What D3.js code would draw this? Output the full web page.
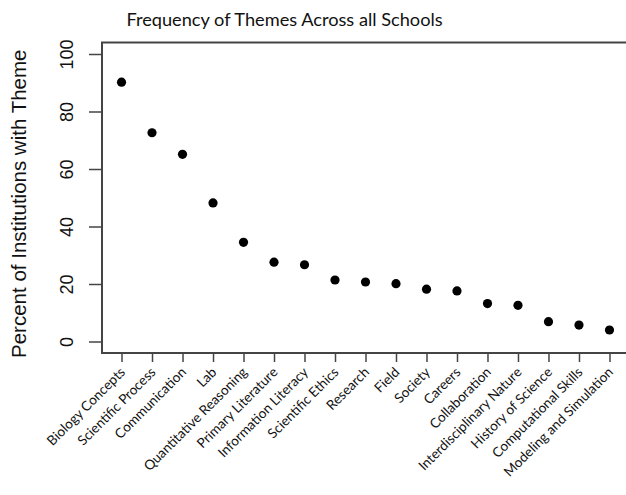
<!DOCTYPE html>
<html><head><meta charset="utf-8">
<script src="https://cdn.jsdelivr.net/npm/d3@7"></script>
<style>body{margin:0;background:#fff}svg{display:block}</style>
</head><body>
<svg id="c" width="626" height="495"></svg>
<script>
const categories = ["Biology Concepts","Scientific Process","Communication","Lab","Quantitative Reasoning","Primary Literature","Information Literacy","Scientific Ethics","Research","Field","Society","Careers","Collaboration","Interdisciplinary Nature","History of Science","Computational Skills","Modeling and Simulation"];
const values = [90.2,72.6,65.1,48.2,34.5,27.6,26.7,21.4,20.7,20.1,18.2,17.6,13.2,12.6,6.9,5.7,4.0];
const yTicks = [0,20,40,60,80,100];
const title = "Frequency of Themes Across all Schools";
const yLabel = "Percent of Institutions with Theme";

const svg = d3.select("#c");
const mLeft = 102, mRight = 629, mTop = 42.5, mBottom = 353;
const x = d3.scaleLinear().domain([0.36, 17.64]).range([mLeft, mRight]);
const y = d3.scaleLinear().domain([-4, 104]).range([mBottom, mTop]);

const axisColor = "#444";

// y axis
const yAxis = d3.axisLeft(y).tickValues(yTicks).tickSize(13).tickFormat(d3.format("d"));
const gy = svg.append("g").attr("transform", `translate(${mLeft},0)`).call(yAxis);
gy.select(".domain").remove();
gy.selectAll(".tick line").attr("stroke", axisColor).attr("stroke-width", 1.5);
gy.selectAll(".tick text")
  .attr("font-family", "Liberation Sans, Arial, sans-serif").attr("font-size", 18).attr("fill", "#111")
  .attr("transform", "rotate(-90)").attr("x", 0).attr("y", -29).attr("dy", 0)
  .attr("text-anchor", "middle");

// x axis
const xAxis = d3.axisBottom(x).tickValues(d3.range(1, categories.length + 1)).tickSize(9).tickFormat((d) => categories[d - 1]);
const gx = svg.append("g").attr("transform", `translate(0,${mBottom})`).call(xAxis);
gx.select(".domain").remove();
gx.selectAll(".tick line").attr("stroke", axisColor).attr("stroke-width", 1.5);
gx.selectAll(".tick text")
  .attr("font-family", "Lato, Open Sans, sans-serif").attr("font-size", 13.6).attr("fill", "#111")
  .attr("text-anchor", "end").attr("x", 0).attr("y", 0).attr("dy", 0)
  .attr("transform", "translate(4,20) rotate(-45)");

// box
svg.append("rect").attr("x", mLeft).attr("y", mTop).attr("width", mRight - mLeft).attr("height", mBottom - mTop)
  .attr("fill", "none").attr("stroke", axisColor).attr("stroke-width", 2);

// points
svg.append("g").selectAll("circle").data(values).join("circle")
  .attr("cx", (d, i) => x(i + 1)).attr("cy", d => y(d)).attr("r", 4.6).attr("fill", "#000");

// title
svg.append("text").attr("x", 284.5).attr("y", 26).attr("text-anchor", "middle")
  .attr("font-family", "Lato, Open Sans, sans-serif").attr("font-size", 18.2).attr("fill", "#111").text(title);

// y label
svg.append("text").attr("transform", `translate(26,${(mTop + mBottom) / 2 + 6}) rotate(-90)`).attr("text-anchor", "middle")
  .attr("font-family", "Liberation Sans, Arial, sans-serif").attr("font-size", 20.5).attr("fill", "#111").text(yLabel);
</script>
</body></html>
